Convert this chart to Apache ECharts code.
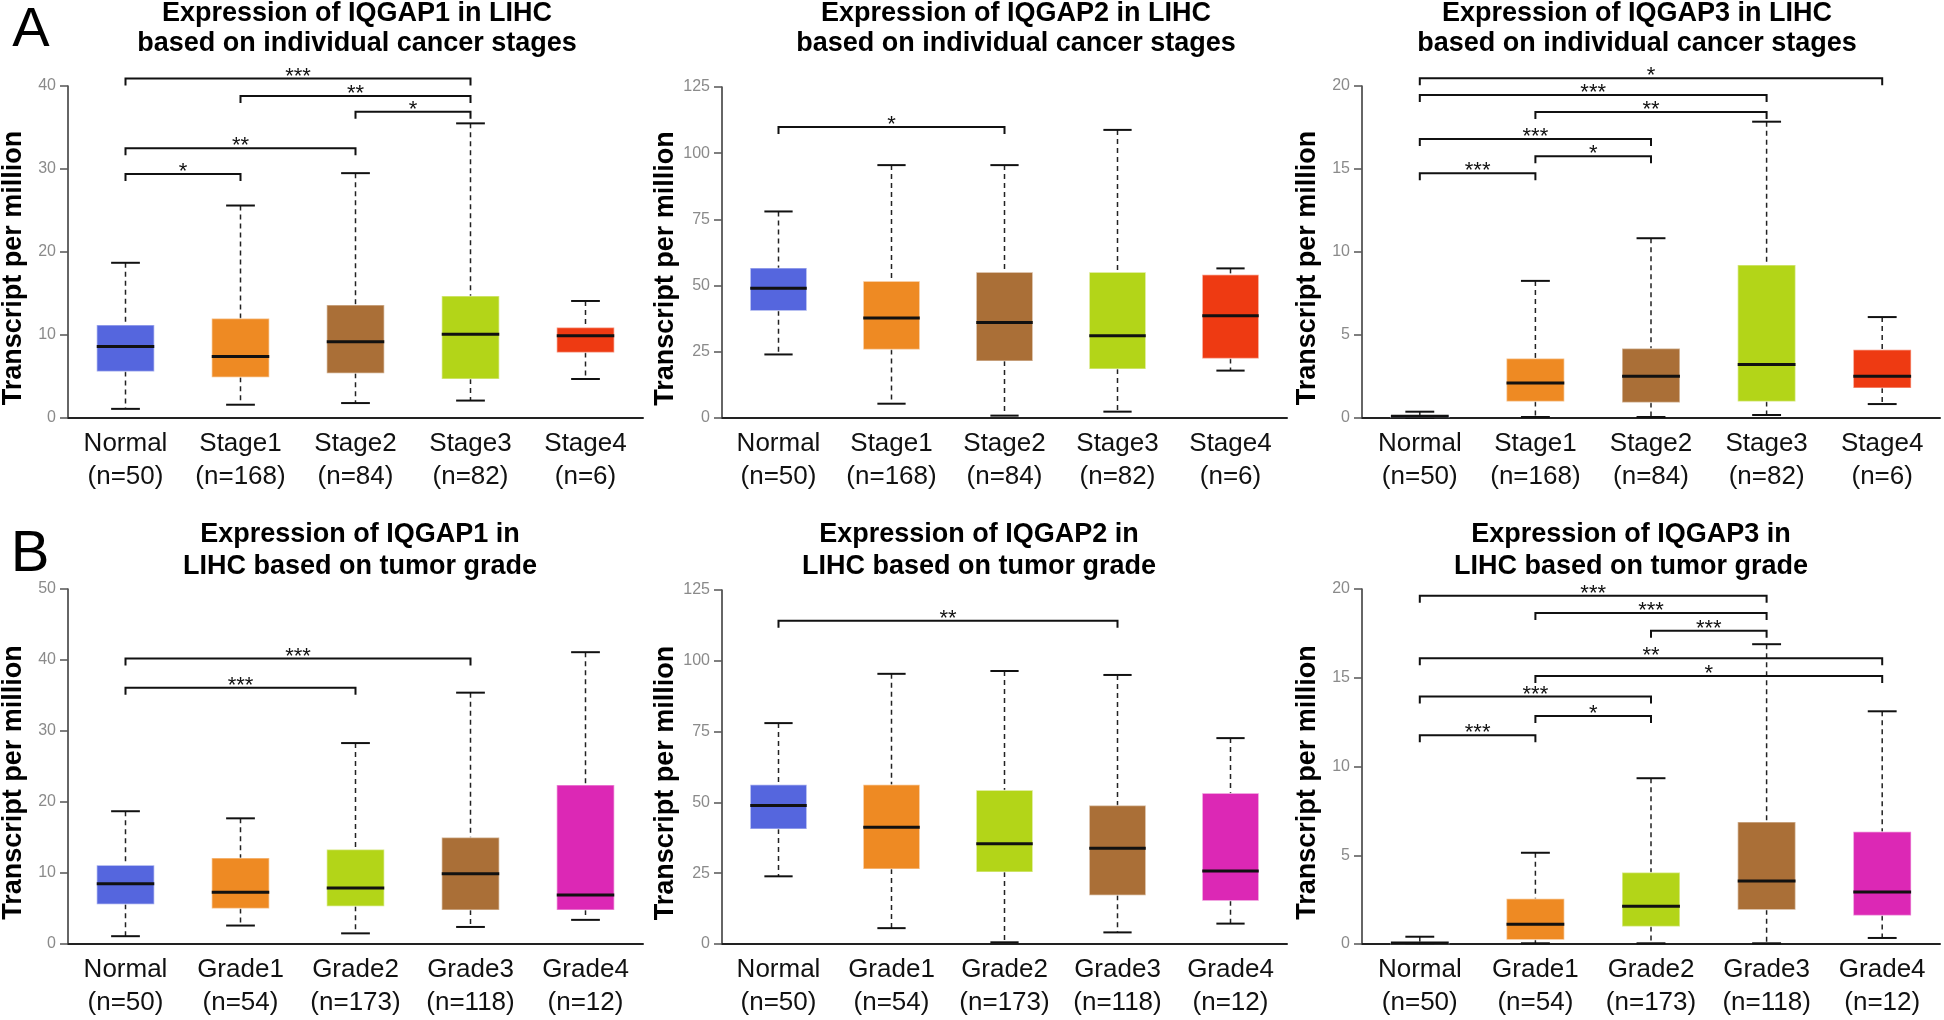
<!DOCTYPE html>
<html><head><meta charset="utf-8">
<script src="https://cdn.jsdelivr.net/npm/echarts@6/dist/echarts.min.js"></script>
<style>html,body{margin:0;padding:0;background:#fff;}#c{width:1944px;height:1020px;}</style>
</head><body><div id="c"></div>
<script>
const stageGroups = ['Normal','Stage1','Stage2','Stage3','Stage4'];
const stageCounts = [50,168,84,82,6];
const gradeGroups = ['Normal','Grade1','Grade2','Grade3','Grade4'];
const gradeCounts = [50,54,173,118,12];

// each box: [lower whisker, Q1, median, Q3, upper whisker] (transcripts per million)
const iqgap1Stage = [[1.1,5.6,8.6,11.2,18.7],[1.6,4.9,7.4,12.0,25.6],[1.8,5.4,9.2,13.6,29.5],[2.1,4.7,10.1,14.7,35.5],[4.7,7.9,9.9,10.9,14.1]];
const iqgap2Stage = [[24.0,40.5,49.0,56.6,78.0],[5.4,25.9,37.8,51.6,95.5],[0.9,21.5,36.1,55.0,95.5],[2.4,18.5,31.1,55.0,108.8],[17.9,22.5,38.6,54.1,56.5]];
const iqgap3Stage = [[0,0.04,0.1,0.14,0.38],[0.06,1.0,2.11,3.59,8.26],[0.06,0.94,2.51,4.19,10.83],[0.18,1.0,3.23,9.21,17.85],[0.84,1.81,2.51,4.11,6.08]];
const iqgap1Grade = [[1.1,5.6,8.5,11.1,18.7],[2.6,5.0,7.3,12.1,17.7],[1.5,5.3,7.9,13.3,28.3],[2.4,4.8,9.9,15.0,35.4],[3.4,4.8,6.9,22.4,41.1]];
const iqgap2Grade = [[23.9,40.6,48.9,56.2,78.0],[5.6,26.5,41.2,56.2,95.4],[0.6,25.4,35.4,54.3,96.4],[4.1,17.2,33.8,48.9,95.0],[7.2,15.3,25.8,53.2,72.7]];
const iqgap3Grade = [[0,0.02,0.06,0.1,0.41],[0.04,0.24,1.11,2.55,5.14],[0.04,0.99,2.12,4.03,9.34],[0.04,1.93,3.55,6.87,16.89],[0.34,1.61,2.93,6.32,13.11]];

// significance brackets: [group a, group b, bracket level (TPM), stars]
const iqgap1StageSig = [[0,3,40.9,'***'],[1,3,38.8,'**'],[2,3,36.9,'*'],[0,2,32.5,'**'],[0,1,29.4,'*']];
const iqgap2StageSig = [[0,2,109.9,'*']];
const iqgap3StageSig = [[0,4,20.46,'*'],[0,3,19.46,'***'],[1,3,18.44,'**'],[0,2,16.81,'***'],[1,2,15.77,'*'],[0,1,14.74,'***']];
const iqgap1GradeSig = [[0,3,40.2,'***'],[0,2,36.1,'***']];
const iqgap2GradeSig = [[0,3,114.1,'**']];
const iqgap3GradeSig = [[0,3,19.62,'***'],[1,3,18.65,'***'],[2,3,17.65,'***'],[0,4,16.1,'**'],[1,4,15.1,'*'],[0,2,13.94,'***'],[1,2,12.85,'*'],[0,1,11.76,'***']];

const titles = [
  'Expression of IQGAP1 in LIHC\nbased on individual cancer stages',
  'Expression of IQGAP2 in LIHC\nbased on individual cancer stages',
  'Expression of IQGAP3 in LIHC\nbased on individual cancer stages',
  'Expression of IQGAP1 in\nLIHC based on tumor grade',
  'Expression of IQGAP2 in\nLIHC based on tumor grade',
  'Expression of IQGAP3 in\nLIHC based on tumor grade'
];
const yMaxes = [40,125,20,50,125,20];
const ySteps = [10,25,5,10,25,5];
const yName = 'Transcript per million';

const FONT = '"Liberation Sans", Arial, sans-serif';
const C = {blue:'#5566DE', orange:'#EE8A23', brown:'#AA6F37', green:'#B3D518', red:'#EE3A12', magenta:'#DC28B5'};
const stageColors = [C.blue, C.orange, C.brown, C.green, C.red];
const gradeColors = [C.blue, C.orange, C.green, C.brown, C.magenta];

const panels = [
  {groups:stageGroups, counts:stageCounts, boxes:iqgap1Stage, sig:iqgap1StageSig, colors:stageColors, grid:{left:68, top:86, width:575, height:332}, tx:357, ty:-1, lh:30},
  {groups:stageGroups, counts:stageCounts, boxes:iqgap2Stage, sig:iqgap2StageSig, colors:stageColors, grid:{left:722, top:87, width:565, height:331}, tx:1016, ty:-1, lh:30},
  {groups:stageGroups, counts:stageCounts, boxes:iqgap3Stage, sig:iqgap3StageSig, colors:stageColors, grid:{left:1362, top:86, width:578, height:332}, tx:1637, ty:-1, lh:30},
  {groups:gradeGroups, counts:gradeCounts, boxes:iqgap1Grade, sig:iqgap1GradeSig, colors:gradeColors, grid:{left:68, top:589, width:575, height:355}, tx:360, ty:519, lh:32},
  {groups:gradeGroups, counts:gradeCounts, boxes:iqgap2Grade, sig:iqgap2GradeSig, colors:gradeColors, grid:{left:722, top:590, width:565, height:354}, tx:979, ty:519, lh:32},
  {groups:gradeGroups, counts:gradeCounts, boxes:iqgap3Grade, sig:iqgap3GradeSig, colors:gradeColors, grid:{left:1362, top:589, width:578, height:355}, tx:1631, ty:519, lh:32}
];

function boxRenderer(colors) {
  return function (params, api) {
    const i = api.value(0);
    const lo = api.coord([i, api.value(1)]);
    const q1 = api.coord([i, api.value(2)]);
    const md = api.coord([i, api.value(3)]);
    const q3 = api.coord([i, api.value(4)]);
    const hi = api.coord([i, api.value(5)]);
    const band = api.size([1, 0])[0];
    const bw = band * 0.5, cw = band * 0.25, cx = md[0];
    const dash = {stroke:'#222', lineWidth:1.5, lineDash:[5,4]};
    const cap = {stroke:'#111', lineWidth:2};
    return {type:'group', children:[
      {type:'line', shape:{x1:cx, y1:hi[1], x2:cx, y2:q3[1]}, style:dash},
      {type:'line', shape:{x1:cx, y1:q1[1], x2:cx, y2:lo[1]}, style:dash},
      {type:'line', shape:{x1:cx-cw/2, y1:hi[1], x2:cx+cw/2, y2:hi[1]}, style:cap},
      {type:'line', shape:{x1:cx-cw/2, y1:lo[1], x2:cx+cw/2, y2:lo[1]}, style:cap},
      {type:'rect', shape:{x:cx-bw/2, y:q3[1], width:bw, height:Math.max(q1[1]-q3[1], 1)},
        style:{fill:colors[params.dataIndex], stroke:'rgba(255,255,255,0.45)', lineWidth:1.5}},
      {type:'line', shape:{x1:cx-bw/2, y1:md[1], x2:cx+bw/2, y2:md[1]}, style:{stroke:'#111', lineWidth:3}}
    ]};
  };
}

function sigRenderer(sig) {
  return function (params, api) {
    const a = api.coord([api.value(0), api.value(2)]);
    const b = api.coord([api.value(1), api.value(2)]);
    const t = 7;
    return {type:'group', children:[
      {type:'polyline', shape:{points:[[a[0], a[1]+t],[a[0], a[1]],[b[0], b[1]],[b[0], b[1]+t]]},
        style:{stroke:'#111', lineWidth:2, fill:'none'}},
      {type:'text', x:(a[0]+b[0])/2, y:a[1]-2,
        style:{text:sig[params.dataIndex][3], fontSize:22, fontFamily:FONT, fill:'#111', align:'center', verticalAlign:'middle'}}
    ]};
  };
}

const grid = [], xAxis = [], yAxis = [], series = [], graphic = [];
panels.forEach(function (p, k) {
  grid.push(Object.assign({outerBoundsMode:'none', containLabel:false}, p.grid));
  xAxis.push({
    type:'category', gridIndex:k,
    data:p.groups.map(function (g, i) { return g + '\n(n=' + p.counts[i] + ')'; }),
    axisLine:{lineStyle:{color:'#222', width:2}},
    axisTick:{show:false},
    axisLabel:{interval:0, fontSize:26, fontFamily:FONT, color:'#111', lineHeight:33, margin:9}
  });
  yAxis.push({
    type:'value', gridIndex:k, min:0, max:yMaxes[k], interval:ySteps[k],
    name:yName, nameLocation:'middle', nameGap:41,
    nameTextStyle:{fontSize:27, fontWeight:'bold', fontFamily:FONT, color:'#000', padding:[0,32,0,0]},
    axisLine:{show:true, lineStyle:{color:'#333', width:1.5}},
    axisTick:{show:true, length:8, lineStyle:{color:'#555', width:1.5}},
    axisLabel:{fontSize:16, fontFamily:FONT, color:'#8a8a8a', margin:12},
    splitLine:{show:false}
  });
  series.push({
    type:'custom', xAxisIndex:k, yAxisIndex:k, clip:false,
    encode:{x:0, y:[1,2,3,4,5]},
    data:p.boxes.map(function (b, i) { return [i].concat(b); }),
    renderItem:boxRenderer(p.colors), z:2
  });
  series.push({
    type:'custom', xAxisIndex:k, yAxisIndex:k, clip:false,
    encode:{x:[0,1], y:2},
    data:p.sig.map(function (s) { return [s[0], s[1], s[2]]; }),
    renderItem:sigRenderer(p.sig), z:3
  });
  graphic.push({
    type:'text', x:p.tx, y:p.ty,
    style:{text:titles[k], fontSize:27, fontWeight:'bold', fontFamily:FONT, fill:'#000',
      align:'center', verticalAlign:'top', lineHeight:p.lh}
  });
});
graphic.push({type:'text', x:31, y:31, style:{text:'A', fontSize:56, fontFamily:FONT, fill:'#000', align:'center', verticalAlign:'middle'}});
graphic.push({type:'text', x:30, y:555, style:{text:'B', fontSize:58, fontFamily:FONT, fill:'#000', align:'center', verticalAlign:'middle'}});

const chart = echarts.init(document.getElementById('c'), null, {renderer:'canvas'});
chart.setOption({
  animation:false, backgroundColor:'#fff',
  grid:grid, xAxis:xAxis, yAxis:yAxis, series:series, graphic:graphic
});
</script></body></html>
